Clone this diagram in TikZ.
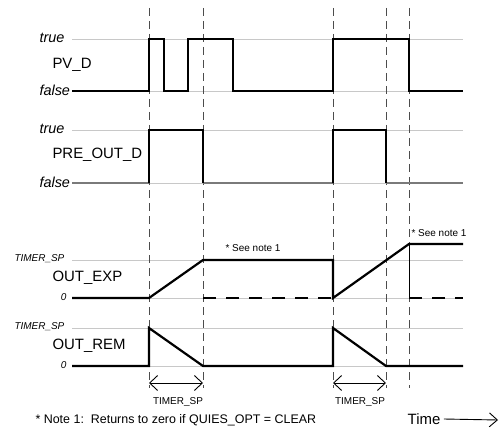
\documentclass[tikz,border=0pt]{standalone}
\usepackage{fontspec}
\setmainfont{Liberation Sans}
\usetikzlibrary{arrows.meta, positioning}
\definecolor{gridgray}{HTML}{C8C8C8}
\definecolor{lowgray}{HTML}{7A7A7A}

\begin{document}
\begin{tikzpicture}[x=1bp, y=-1bp,
  level/.style={gridgray, line width=0.9bp},
  wave/.style={black, line width=2.2bp, line join=miter},
  tmark/.style={black!70, line width=0.8bp, dash pattern=on 8bp off 5bp},
  zerodash/.style={black, line width=1.1bp, dash pattern=on 13bp off 10bp},
  lvl/.style={font=\fontsize{14.5}{16}\selectfont\itshape, anchor=west},
  lvlsmall/.style={font=\fontsize{10}{12}\selectfont\itshape},
  sig/.style={font=\fontsize{15}{17}\selectfont, anchor=west},
  small/.style={font=\fontsize{10}{12}\selectfont},
  span/.style={line width=0.9bp,
    {Straight Barb[length=8bp,width=15bp]}-{Straight Barb[length=8bp,width=15bp]}}]
  \useasboundingbox (0,0) rectangle (499,433);
  % reference levels
  \foreach \y in {39,91,130,183,260,298,328,366}
    \draw[level] (72,\y) -- (463,\y);
  % time marks
  \foreach \x in {149,203,333,386,409}
    \draw[tmark] (\x,8) -- (\x,388);

  % PV_D
  \node[lvl] (pvtrue) at (36,38) {true};
  \node[sig] (pvd) at (49,65) {PV\_D};
  \node[lvl] (pvfalse) at (36,90) {false};
  \draw[wave] (72,91) -- (149,91) -- (149,39) -- (164,39) -- (164,91)
    -- (188,91) -- (188,39) -- (233,39) -- (233,91) -- (333,91)
    -- (333,39) -- (409,39) -- (409,91) -- (463,91);

  % PRE_OUT_D
  \node[lvl] (pretrue) at (36,129) {true};
  \node[sig] (preoutd) at (49,155) {PRE\_OUT\_D};
  \node[lvl] (prefalse) at (36,182) {false};
  \draw[wave, lowgray] (72,183) -- (149,183);
  \draw[wave, lowgray] (203,183) -- (333,183);
  \draw[wave, lowgray] (386,183) -- (463,183);
  \draw[wave] (149,183) -- (149,130) -- (203,130) -- (203,183);
  \draw[wave] (333,183) -- (333,130) -- (386,130) -- (386,183);

  % OUT_EXP
  \node[lvlsmall, anchor=west] (expsp) at (11,259) {TIMER\_SP};
  \node[sig] (outexp) at (49,278) {OUT\_EXP};
  \node[lvlsmall, anchor=east] (expzero) at (70,297) {0};
  \draw[zerodash] (203,298) -- (333,298);
  \draw[zerodash] (409,298) -- (463,298);
  \draw[black, line width=0.9bp] (409,244) -- (409,298);
  \draw[wave] (72,298) -- (149,298) -- (203,260) -- (333,260) -- (333,298)
    -- (409,244) -- (463,244);
  \node[small] (note1a) at (253,248) {* See note 1};
  \node[small] (note1b) at (439,233) {* See note 1};

  % OUT_REM
  \node[lvlsmall, anchor=west] (remsp) at (11,327) {TIMER\_SP};
  \node[sig] (outrem) at (49,346) {OUT\_REM};
  \node[lvlsmall, anchor=east] (remzero) at (70,365) {0};
  \draw[wave] (72,366) -- (149,366) -- (149,328) -- (203,366) -- (333,366)
    -- (333,328) -- (386,366) -- (463,366);

  % timer spans
  \coordinate (s1a) at (149,383);
  \coordinate (s1b) at (203,383);
  \coordinate (s2a) at (333,383);
  \coordinate (s2b) at (386,383);
  \draw[span] (s1a) -- (s1b);
  \draw[span] (s2a) -- (s2b);
  \node[small] (tsp1) at (178,402) {TIMER\_SP};
  \node[small] (tsp2) at (360,402) {TIMER\_SP};

  % footer
  \node[anchor=west, font=\fontsize{12.5}{14}\selectfont] (note) at (32,420)
    {* Note 1:\ \ Returns to zero if QUIES\_OPT = CLEAR};
  \node[font=\fontsize{15}{17}\selectfont] (time) at (424,419) {Time};
  \coordinate (tend) at (498,420);
  \draw[line width=0.9bp, -{Straight Barb[length=8bp,width=14bp]}] (time.east) -- (tend);
\end{tikzpicture}
\end{document}
